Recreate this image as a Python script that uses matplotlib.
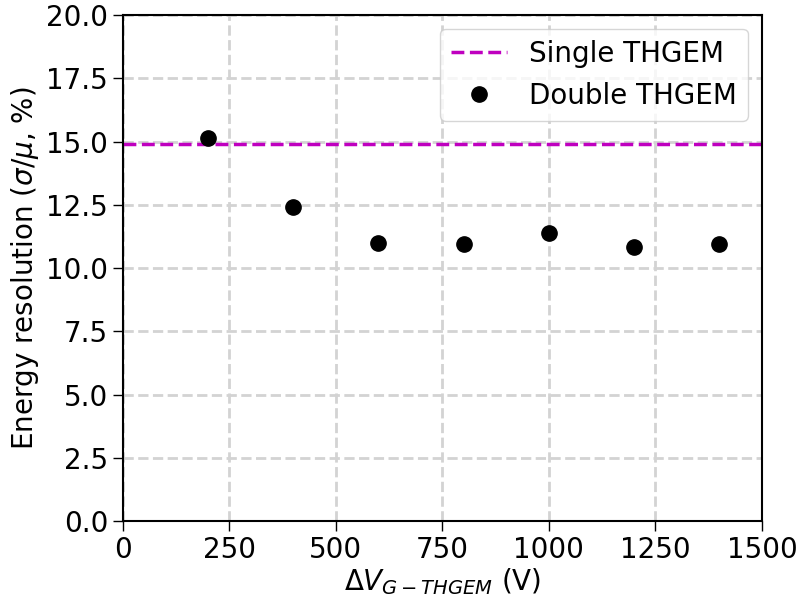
import numpy as np
import matplotlib
matplotlib.use("Agg")
import matplotlib.pyplot as plt

# 数据：双层THGEM的能量分辨率随电压差的变化
dv = [200, 400, 600, 800, 1000, 1200, 1400]
res_double = [15.14, 12.41, 10.99, 10.94, 11.37, 10.84, 10.96]
res_single = 14.92

plt.rcParams['font.size'] = 20

fig, ax = plt.subplots(figsize=(8.02, 6.01), dpi=100)
fig.subplots_adjust(left=0.153, right=0.95, top=0.975, bottom=0.133)

ax.axhline(res_single, color='m', linestyle='--', linewidth=2.5, label='Single THGEM')
ax.plot(dv, res_double, 'o', color='k', markersize=11, label='Double THGEM')

ax.set_xlim(0, 1500)
ax.set_ylim(0, 20)
ax.set_xticks(np.arange(0, 1501, 250))
ax.set_yticks(np.arange(0, 20.1, 2.5))
ax.tick_params(length=7, width=1)
ax.grid(True, linestyle='--', color='lightgray', linewidth=2)
ax.set_axisbelow(True)
for s in ax.spines.values():
    s.set_linewidth(1.5)

ax.set_xlabel(r'$\Delta V_{G-THGEM}$ (V)', labelpad=2)
ax.set_ylabel(r'Energy resolution ($\sigma/\mu$, %)')
ax.legend(loc='upper right')

fig.savefig('out.png')
